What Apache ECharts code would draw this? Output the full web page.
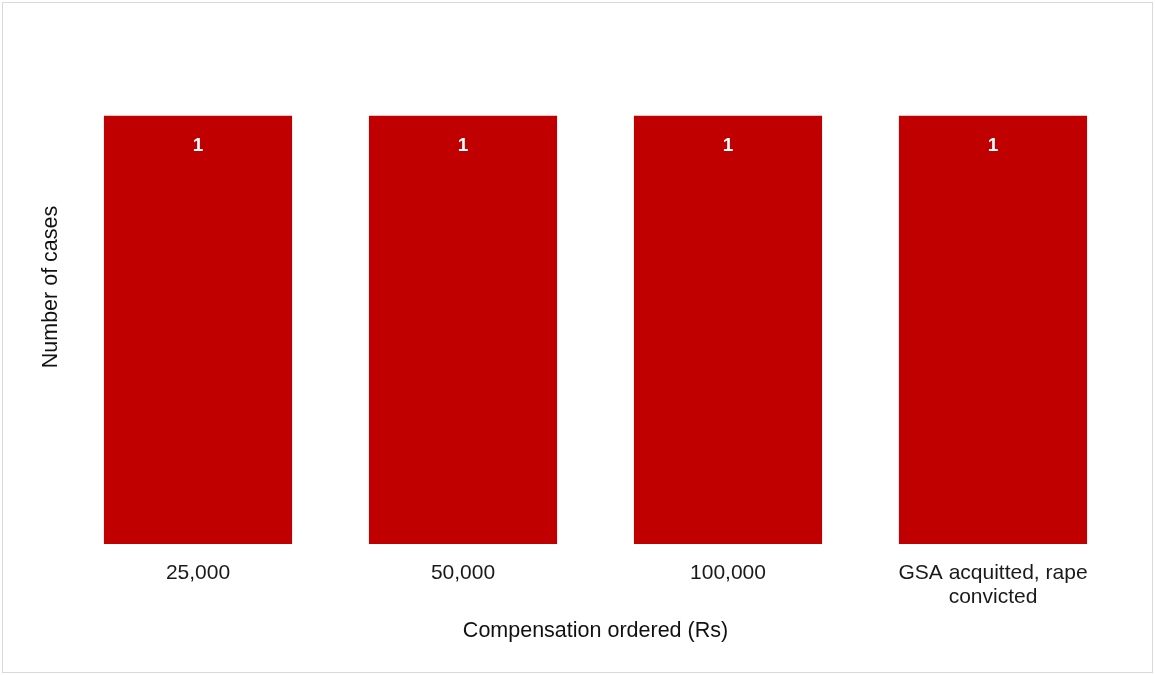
<!DOCTYPE html>
<html>
<head>
<meta charset="utf-8">
<script src="https://cdn.jsdelivr.net/npm/echarts@6/dist/echarts.min.js"></script>
<style>
html,body{margin:0;padding:0;background:#fff;}
#wrap{position:absolute;left:2px;top:2px;width:1149px;height:669px;border:1px solid #d9d9d9;}
#chart{position:absolute;left:0;top:0;width:1155px;height:675px;}
</style>
</head>
<body>
<div id="wrap"></div>
<div id="chart"></div>
<script>
const categories = ['25,000', '50,000', '100,000', 'GSA acquitted, rape\nconvicted'];
const caseCounts = [1, 1, 1, 1];
const xAxisName = 'Compensation ordered (Rs)';
const yAxisName = 'Number of cases';

const chart = echarts.init(document.getElementById('chart'), null, {renderer: 'canvas'});
const font = 'Liberation Sans, Arial, Helvetica, sans-serif';
chart.setOption({
  animation: false,
  grid: {left: 65.5, right: 29.5, top: 30, bottom: 131, containLabel: false},
  xAxis: {
    type: 'category',
    data: categories,
    axisLine: {show: false},
    axisTick: {show: false},
    axisLabel: {color: '#1a1a1a', fontSize: 21, fontFamily: font, margin: 17, lineHeight: 24, interval: 0},
    name: xAxisName,
    nameLocation: 'middle',
    nameGap: 76,
    nameTextStyle: {color: '#111', fontSize: 21.5, fontFamily: font, fontWeight: 500}
  },
  yAxis: {
    type: 'value',
    min: 0,
    max: 1.2,
    axisLine: {show: false},
    axisTick: {show: false},
    axisLabel: {show: false},
    splitLine: {show: false},
    name: yAxisName,
    nameLocation: 'middle',
    nameGap: 3,
    nameTextStyle: {color: '#111', fontSize: 21.5, fontFamily: font}
  },
  series: [{
    type: 'bar',
    data: caseCounts,
    barCategoryGap: '29%',
    itemStyle: {color: '#C00000'},
    label: {
      show: true,
      position: 'insideTop',
      distance: 21,
      color: '#fff',
      fontWeight: 'bold',
      fontSize: 19,
      fontFamily: font
    }
  }]
});
</script>
</body>
</html>
